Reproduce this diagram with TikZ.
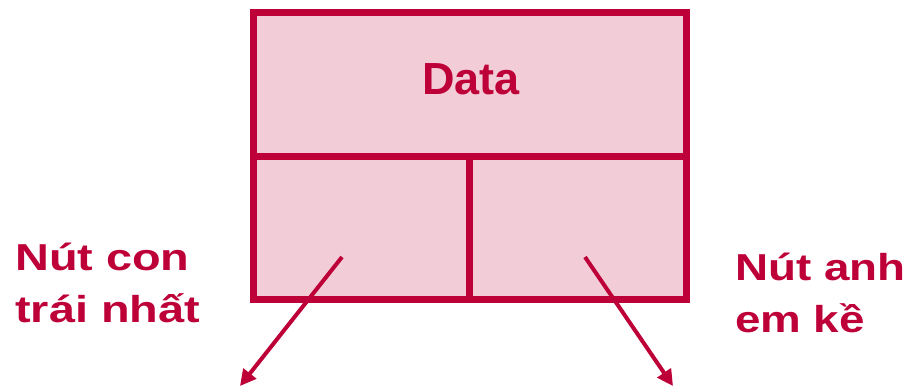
\documentclass[tikz,border=0pt]{standalone}
\usepackage{fontspec}
\usepackage{graphicx}
\setmainfont{Liberation Sans}
\usetikzlibrary{arrows.meta}
\definecolor{crim}{RGB}{190,0,56}
\definecolor{pinkfill}{RGB}{242,205,216}
\tikzset{
  frame/.style={draw=crim, line width=7pt, fill=pinkfill},
  divider/.style={draw=crim, line width=7pt},
  ptr/.style={draw=crim, line width=4pt, -{Triangle[length=16pt,width=16pt]}},
  lbl/.style={text=crim, font=\bfseries\fontsize{37.5}{45}\selectfont, anchor=base west, inner sep=0pt},
  datalbl/.style={text=crim, font=\bfseries\fontsize{45}{54}\selectfont, anchor=base, inner sep=0pt}
}
\begin{document}
\begin{tikzpicture}[x=1pt,y=-1pt]
\useasboundingbox (0,0) rectangle (913,387);
\draw[frame] (253.5,13) rectangle (686.5,300);
\coordinate (dl) at (253.5,157);
\coordinate (dr) at (686.5,157);
\coordinate (vt) at (469.5,157);
\coordinate (vb) at (469.5,300);
\draw[divider] (dl) -- (dr);
\draw[divider] (vt) -- (vb);
\node[datalbl] (data) at (471,95) {Data};
\coordinate (ls) at (342,257);
\coordinate (lt) at (240,386);
\coordinate (rs) at (585,257);
\coordinate (rt) at (673,386);
\draw[ptr] (ls) -- (lt);
\draw[ptr] (rs) -- (rt);
\node[lbl] (l1) at (15,271) {\scalebox{1.25}[1]{Nút con}};
\node[lbl] (l2) at (15,323) {\scalebox{1.25}[1]{trái nhất}};
\node[lbl] (r1) at (735,281) {\scalebox{1.22}[1]{Nút anh}};
\node[lbl] (r2) at (735,333) {\scalebox{1.22}[1]{em kề}};
\end{tikzpicture}
\end{document}
